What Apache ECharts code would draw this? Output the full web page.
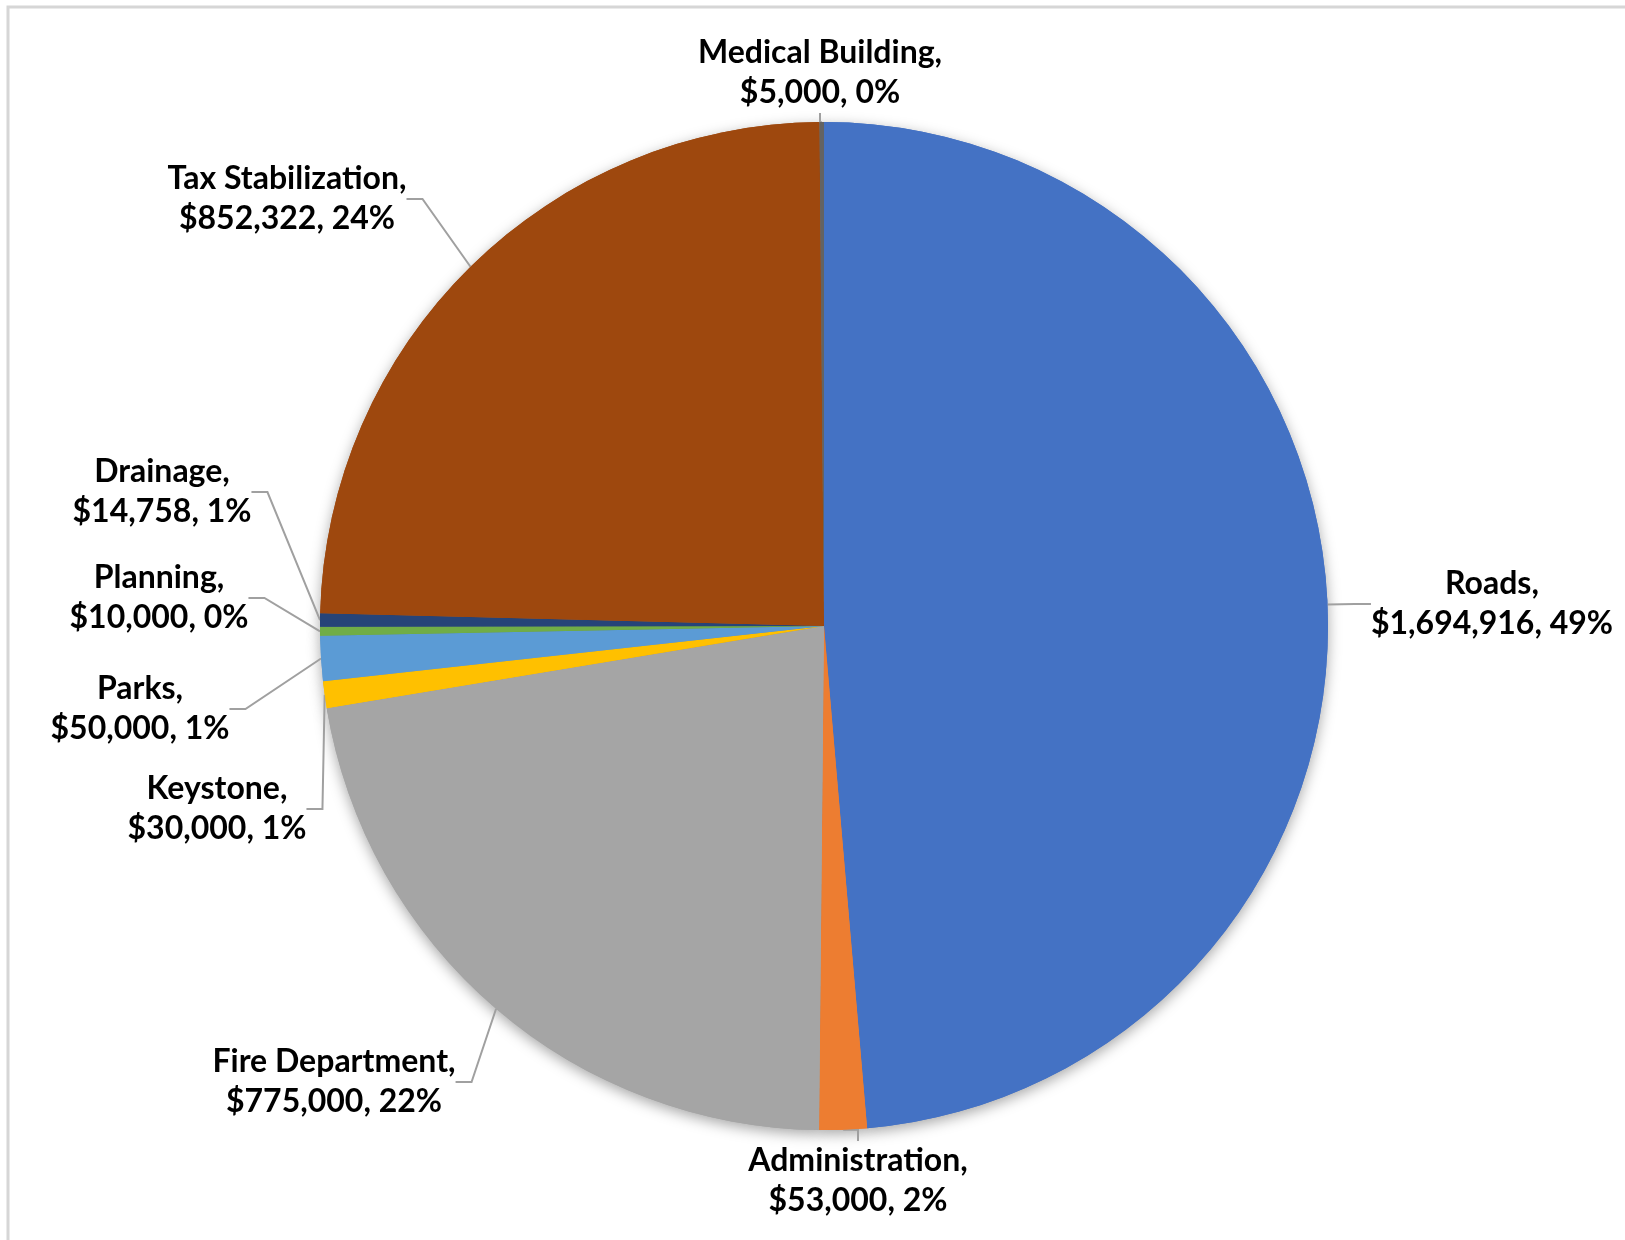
<!DOCTYPE html>
<html>
<head>
<meta charset="utf-8">
<script src="https://cdn.jsdelivr.net/npm/echarts@6/dist/echarts.min.js"></script>
<style>
  html, body { margin: 0; padding: 0; background: #fff; }
  #chart { width: 1625px; height: 1240px; }
</style>
</head>
<body>
<div id="chart"></div>
<script>
// budget items, clockwise from the top
let categories = ['Roads', 'Administration', 'Fire Department', 'Keystone', 'Parks',
  'Planning', 'Drainage', 'Tax Stabilization', 'Medical Building'];
let amounts = [1694916, 53000, 775000, 30000, 50000, 10000, 14758, 852322, 5000];
// percentages as printed on the chart
let percents = [49, 2, 22, 1, 1, 0, 1, 24, 0];
let colors = ['#4472C4', '#ED7D31', '#A5A5A5', '#FFC000', '#5B9BD5',
  '#70AD47', '#264478', '#9E480E', '#636363'];

// where each label sits (centre of the text block)
let labelPos = [
  [1492, 604], [858, 1181], [334, 1082], [217, 809], [140, 709],
  [159, 598], [162, 492], [287, 199], [820, 73]
];

let chartDom = document.getElementById('chart');
let myChart = echarts.init(chartDom);

let pieData = categories.map(function (name, i) {
  return { name: name, value: amounts[i], itemStyle: { color: colors[i] } };
});

let option = {
  backgroundColor: '#ffffff',
  animation: false,
  graphic: [{
    type: 'rect',
    shape: { x: 8, y: 7, width: 1700, height: 1300 },
    style: { fill: 'none', stroke: '#d6d6d6', lineWidth: 3 },
    silent: true
  }],
  series: [
    {
      // shadow under the whole pie
      type: 'pie',
      silent: true,
      z: 1,
      center: [824, 626],
      radius: 504,
      startAngle: 90,
      label: { show: false },
      labelLine: { show: false },
      itemStyle: {
        shadowBlur: 14,
        shadowColor: 'rgba(0,0,0,0.35)',
        shadowOffsetY: 4
      },
      data: pieData
    },
    {
      type: 'pie',
      z: 2,
      center: [824, 626],
      radius: 504,
      startAngle: 90,
      avoidLabelOverlap: false,
      itemStyle: { borderWidth: 0 },
      emphasis: { disabled: true },
      label: {
        show: true,
        position: 'outside',
        color: '#000',
        fontFamily: 'Lato',
        fontWeight: 'bold',
        fontSize: 32,
        lineHeight: 40,
        align: 'center',
        formatter: function (p) {
          return p.name + ',\n$' + p.value.toLocaleString('en-US') + ', ' + percents[p.dataIndex] + '%';
        }
      },
      labelLine: {
        show: true,
        length: 20,
        length2: 16,
        lineStyle: { color: '#a0a0a0', width: 2 }
      },
      labelLayout: function (params) {
        let pos = labelPos[params.dataIndex];
        return {
          x: pos[0],
          y: pos[1],
          align: 'center',
          verticalAlign: 'middle'
        };
      },
      data: pieData
    }
  ]
};

option && myChart.setOption(option);
</script>
</body>
</html>
